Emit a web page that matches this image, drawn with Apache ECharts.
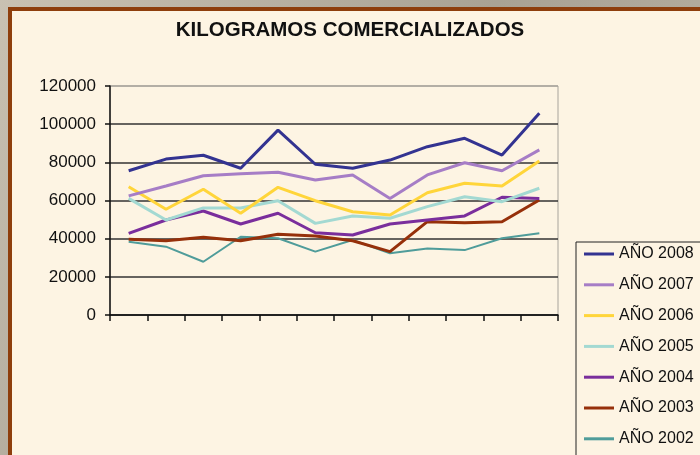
<!DOCTYPE html>
<html>
<head>
<meta charset="utf-8">
<script src="https://cdn.jsdelivr.net/npm/echarts@6/dist/echarts.min.js"></script>
<style>
  html, body { margin: 0; padding: 0; background: #b9b2a4; }
  #chart { width: 700px; height: 455px; }
</style>
</head>
<body>
<div id="chart"></div>
<script>
// meses (sin etiquetas en el original)
var meses = ['Ene', 'Feb', 'Mar', 'Abr', 'May', 'Jun', 'Jul', 'Ago', 'Sep', 'Oct', 'Nov', 'Dic'];
var nombres = ['AÑO 2008', 'AÑO 2007', 'AÑO 2006', 'AÑO 2005', 'AÑO 2004', 'AÑO 2003', 'AÑO 2002'];
var colores = ['#333391', '#a67dc6', '#ffd53a', '#a3d9d2', '#7a2e9c', '#96300a', '#4f9c9a'];

var y2008 = [75600, 81700, 83700, 76900, 96900, 79000, 76900, 81200, 88200, 92600, 83800, 105700];
var y2007 = [62400, 67600, 73000, 74000, 74800, 70700, 73400, 61100, 73400, 79800, 75600, 86500];
var y2006 = [67200, 55400, 65900, 53300, 66900, 59900, 54100, 52400, 64100, 69000, 67600, 80700];
var y2005 = [61100, 49800, 56100, 56100, 59900, 48000, 51900, 50700, 56800, 62000, 59400, 66400];
var y2004 = [42800, 49800, 54500, 47700, 53300, 43100, 41900, 47700, 49800, 51900, 61700, 61100];
var y2003 = [39700, 38900, 40700, 38900, 42300, 41400, 38900, 33200, 48900, 48400, 48900, 60300];
var y2002 = [38400, 35800, 27900, 41000, 40200, 33200, 39300, 32300, 34900, 34000, 40200, 42800];

var datos = [y2008, y2007, y2006, y2005, y2004, y2003, y2002];
var grosor = [3, 3, 3, 3, 3, 3, 2];

var chart = echarts.init(document.getElementById('chart'));

var series = [];
for (let i = 0; i < datos.length; i++) {
  series.push({
    name: nombres[i],
    type: 'line',
    data: datos[i],
    symbol: 'none',
    z: 10 - i,
    lineStyle: { color: colores[i], width: grosor[i] },
    itemStyle: { color: colores[i] }
  });
}

var option = {
  animation: false,
  backgroundColor: '#b9b2a4',
  graphic: [
    // fondo tipo piedra
    {
      type: 'rect', z: -10, silent: true,
      shape: { x: 0, y: 0, width: 700, height: 455 },
      style: {
        fill: new echarts.graphic.LinearGradient(0, 0, 1, 1, [
          { offset: 0, color: '#c9c1b2' },
          { offset: 0.5, color: '#a9a294' },
          { offset: 1, color: '#bdb6a8' }
        ])
      }
    },
    // panel crema con borde marrón
    {
      type: 'rect', z: -9, silent: true,
      shape: { x: 10, y: 9, width: 720, height: 480 },
      style: { fill: '#fdf4e3', stroke: '#8e3e0c', lineWidth: 4 }
    }
  ],
  title: {
    text: 'KILOGRAMOS COMERCIALIZADOS',
    left: 345,
    textAlign: 'center',
    top: 15,
    textStyle: {
      fontFamily: 'Liberation Sans',
      fontSize: 20.5,
      fontWeight: 'bold',
      color: '#111'
    }
  },
  legend: {
    orient: 'vertical',
    left: 576,
    top: 242,
    height: 250,
    data: nombres,
    icon: 'rect',
    itemWidth: 30,
    itemHeight: 3,
    itemGap: 14.8,
    padding: [4, 30, 20, 8],
    backgroundColor: '#fdf4e3',
    borderColor: '#222',
    borderWidth: 1,
    textStyle: {
      fontFamily: 'Liberation Sans',
      fontSize: 16,
      lineHeight: 16,
      color: '#111'
    }
  },
  grid: {
    left: 110,
    right: 142,
    top: 86,
    bottom: 140,
    show: true,
    borderColor: '#a8a49c',
    borderWidth: 1
  },
  xAxis: {
    type: 'category',
    data: meses,
    boundaryGap: true,
    axisLine: { lineStyle: { color: '#111', width: 1.5 } },
    axisTick: { show: true, length: 6, interval: 0, lineStyle: { color: '#111', width: 1.5 } },
    axisLabel: { show: false },
    splitLine: { show: false }
  },
  yAxis: {
    type: 'value',
    min: 0,
    max: 120000,
    interval: 20000,
    axisLine: { show: true, lineStyle: { color: '#111', width: 1.5 } },
    axisTick: { show: true, length: 5, lineStyle: { color: '#111', width: 1.5 } },
    axisLabel: {
      margin: 14,
      fontFamily: 'Liberation Sans',
      fontSize: 17,
      color: '#111',
      formatter: function (v) { return String(v); }
    },
    splitLine: {
      lineStyle: {
        color: ['#333', '#333', '#333', '#333', '#333', '#333', '#a8a49c'],
        width: 1.5
      }
    }
  },
  series: series
};

chart.setOption(option);
</script>
</body>
</html>
